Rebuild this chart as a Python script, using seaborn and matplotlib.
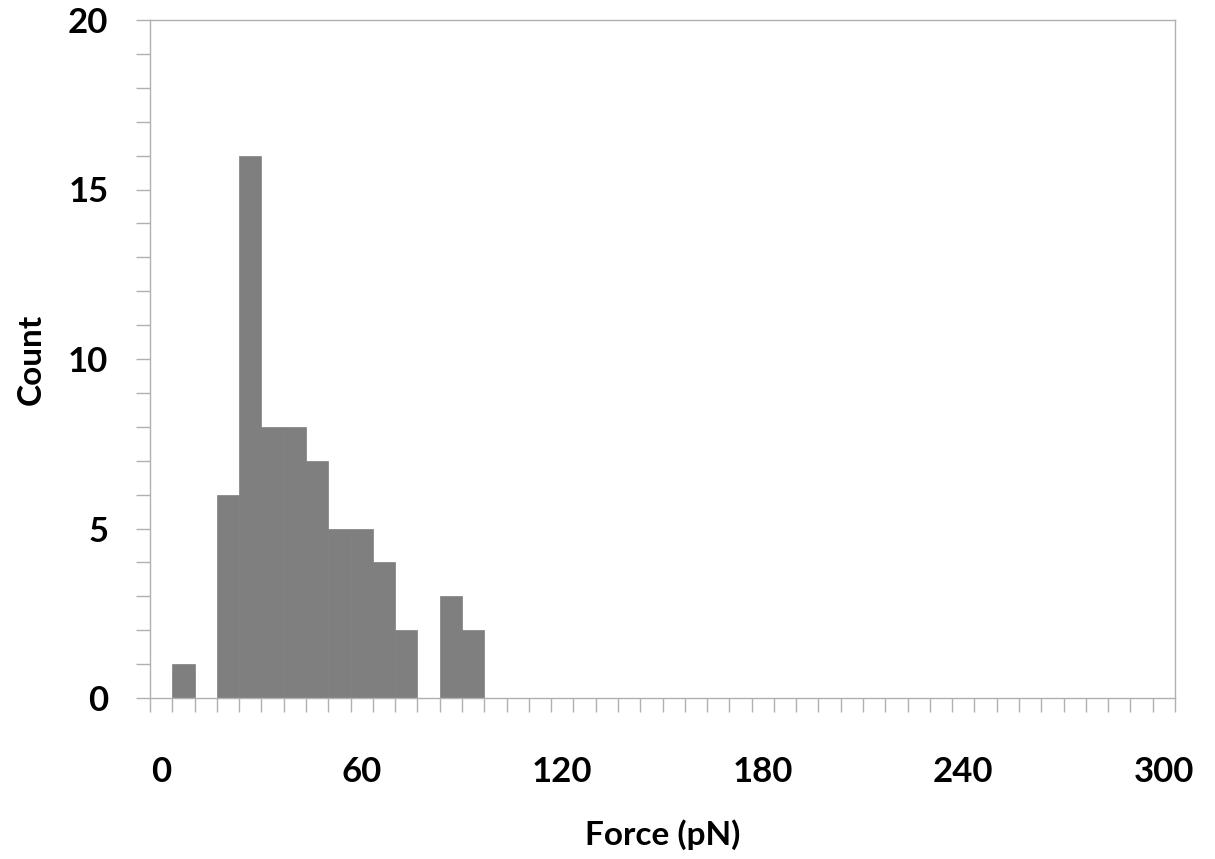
import numpy as np
import pandas as pd
import matplotlib
matplotlib.use('Agg')
import matplotlib.pyplot as plt
import seaborn as sns

# counts per force bin (46 bins, 0 .. 300 pN)
counts = [0, 1, 0, 6, 16, 8, 8, 7, 5, 5, 4, 2, 0, 3, 2] + [0] * 31
tick_pos = [0, 9, 18, 27, 36, 45]
tick_labels = ['0', '60', '120', '180', '240', '300']
y_ticks = [0, 5, 10, 15, 20]

df = pd.DataFrame({'bin': range(len(counts)), 'count': counts})

sns.set_style('white')
plt.rcParams['font.family'] = ['Lato', 'DejaVu Sans']

fig, ax = plt.subplots(figsize=(12.15, 8.59), dpi=100)
fig.subplots_adjust(left=150/1215, right=1175/1215, top=1-20/859, bottom=1-698/859)

sns.barplot(data=df, x='bin', y='count', color='#7f7f7f', saturation=1,
            width=1.0, edgecolor='#7f7f7f', linewidth=0.5, ax=ax)

ax.set_xlim(-0.5, len(counts) - 0.5)
ax.set_ylim(0, 20)

grey = '#b0b0b0'
ax.set_xticks(tick_pos, tick_labels)
ax.set_xticks(np.arange(-0.5, len(counts), 1), minor=True)
ax.tick_params(axis='x', which='major', length=0, pad=42, bottom=True)
ax.tick_params(axis='x', which='minor', length=10, width=1, color=grey, bottom=True)

ax.set_yticks(y_ticks)
ax.set_yticks(range(0, 21), minor=True)
ax.tick_params(axis='y', which='both', length=10, width=1, color=grey, left=True, pad=20)

for lab in ax.get_xticklabels() + ax.get_yticklabels():
    lab.set_fontsize(25)
    lab.set_fontweight('bold')
    lab.set_color('black')

for s in ax.spines.values():
    s.set_color(grey)
    s.set_linewidth(1)

ax.set_xlabel('Force (pN)', fontsize=24, fontweight='bold', labelpad=22, color='black')
ax.set_ylabel('Count', fontsize=24, fontweight='bold', labelpad=16, color='black')

fig.savefig('out.png', dpi=100)
